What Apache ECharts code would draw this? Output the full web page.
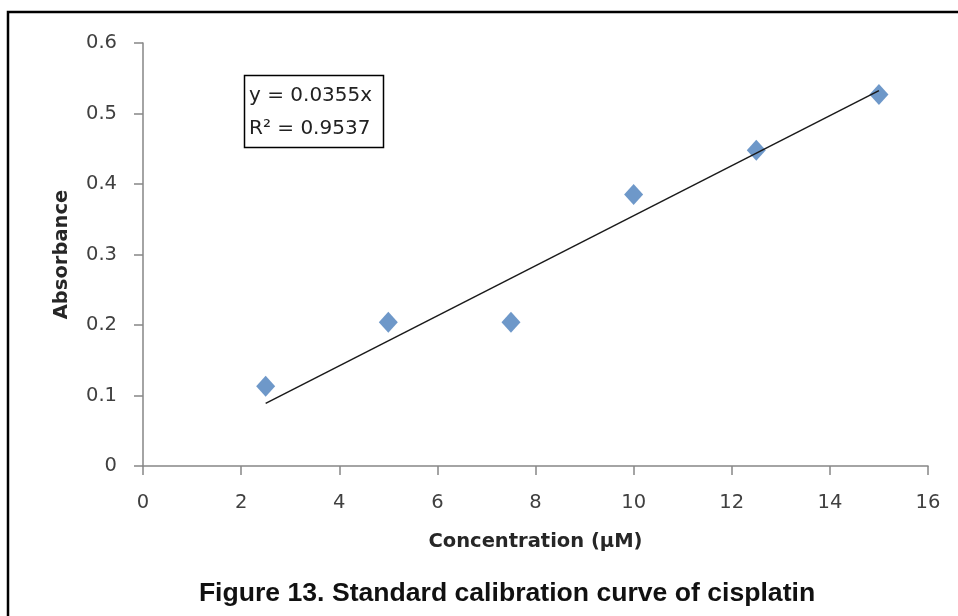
<!DOCTYPE html>
<html><head><meta charset="utf-8">
<script src="https://cdn.jsdelivr.net/npm/echarts@6/dist/echarts.min.js"></script>
<style>html,body{margin:0;padding:0;background:#fff}#c{width:958px;height:616px}</style>
</head><body><div id="c"></div>
<script>
const concentration = [2.5, 5, 7.5, 10, 12.5, 15];
const absorbance = [0.113, 0.204, 0.204, 0.385, 0.448, 0.527];
const slope = 0.0355;
const trendX = [2.5, 15];
const equationText = ['y = 0.0355x', 'R² = 0.9537'];
const titleText = 'Figure 13. Standard calibration curve of cisplatin';

const chart = echarts.init(document.getElementById('c'));
const titleFont = '"Liberation Sans", Arial, sans-serif';
const labelFont = '"DejaVu Sans", sans-serif';
chart.setOption({
  animation: false,
  backgroundColor: '#fff',
  title: {
    text: titleText, left: 502, top: 575, textAlign: 'center',
    textStyle: {fontFamily: titleFont, fontSize: 26.6, fontWeight: 'bold', color: '#111'}
  },
  grid: {left: 143, right: 30, top: 43, bottom: 150},
  xAxis: {
    type: 'value', min: 0, max: 16, interval: 2,
    name: 'Concentration (µM)', nameLocation: 'middle', nameGap: 66,
    nameTextStyle: {fontFamily: labelFont, fontSize: 19.5, fontWeight: 'bold', color: '#262626'},
    axisLine: {show: true, lineStyle: {color: '#868686', width: 1.5}},
    axisTick: {show: true, length: 9, lineStyle: {color: '#868686', width: 1.5}},
    axisLabel: {fontFamily: labelFont, fontSize: 19.5, color: '#404040', margin: 27},
    splitLine: {show: false}
  },
  yAxis: {
    type: 'value', min: 0, max: 0.6, interval: 0.1,
    name: 'Absorbance', nameLocation: 'middle', nameGap: 71,
    nameTextStyle: {fontFamily: labelFont, fontSize: 19.5, fontWeight: 'bold', color: '#262626'},
    axisLine: {show: true, lineStyle: {color: '#868686', width: 1.5}},
    axisTick: {show: true, length: 9, lineStyle: {color: '#868686', width: 1.5}},
    axisLabel: {fontFamily: labelFont, fontSize: 19.5, color: '#404040', margin: 26,
      formatter: v => v === 0 ? '0' : v.toFixed(1)},
    splitLine: {show: false}
  },
  series: [
    {
      type: 'line', data: trendX.map(x => [x, slope * x]),
      symbol: 'none', lineStyle: {color: '#1a1a1a', width: 1.5}, z: 3
    },
    {
      type: 'scatter', data: concentration.map((x, i) => [x, absorbance[i]]),
      symbol: 'diamond', symbolSize: [19, 21],
      itemStyle: {color: '#4a7ebb'}, z: 2
    }
  ],
  graphic: [
    {type: 'rect', shape: {x: 8, y: 12, width: 960, height: 620}, style: {fill: 'none', stroke: '#000', lineWidth: 2.5}},
    {type: 'rect', shape: {x: 244.5, y: 75.5, width: 139, height: 72}, style: {fill: '#fff', stroke: '#000', lineWidth: 1.5}},
    {type: 'text', x: 249, y: 86, style: {text: equationText[0], font: '20px "DejaVu Sans", sans-serif', fill: '#222'}},
    {type: 'text', x: 249, y: 119, style: {text: equationText[1], font: '20px "DejaVu Sans", sans-serif', fill: '#222'}}
  ]
});
</script></body></html>
